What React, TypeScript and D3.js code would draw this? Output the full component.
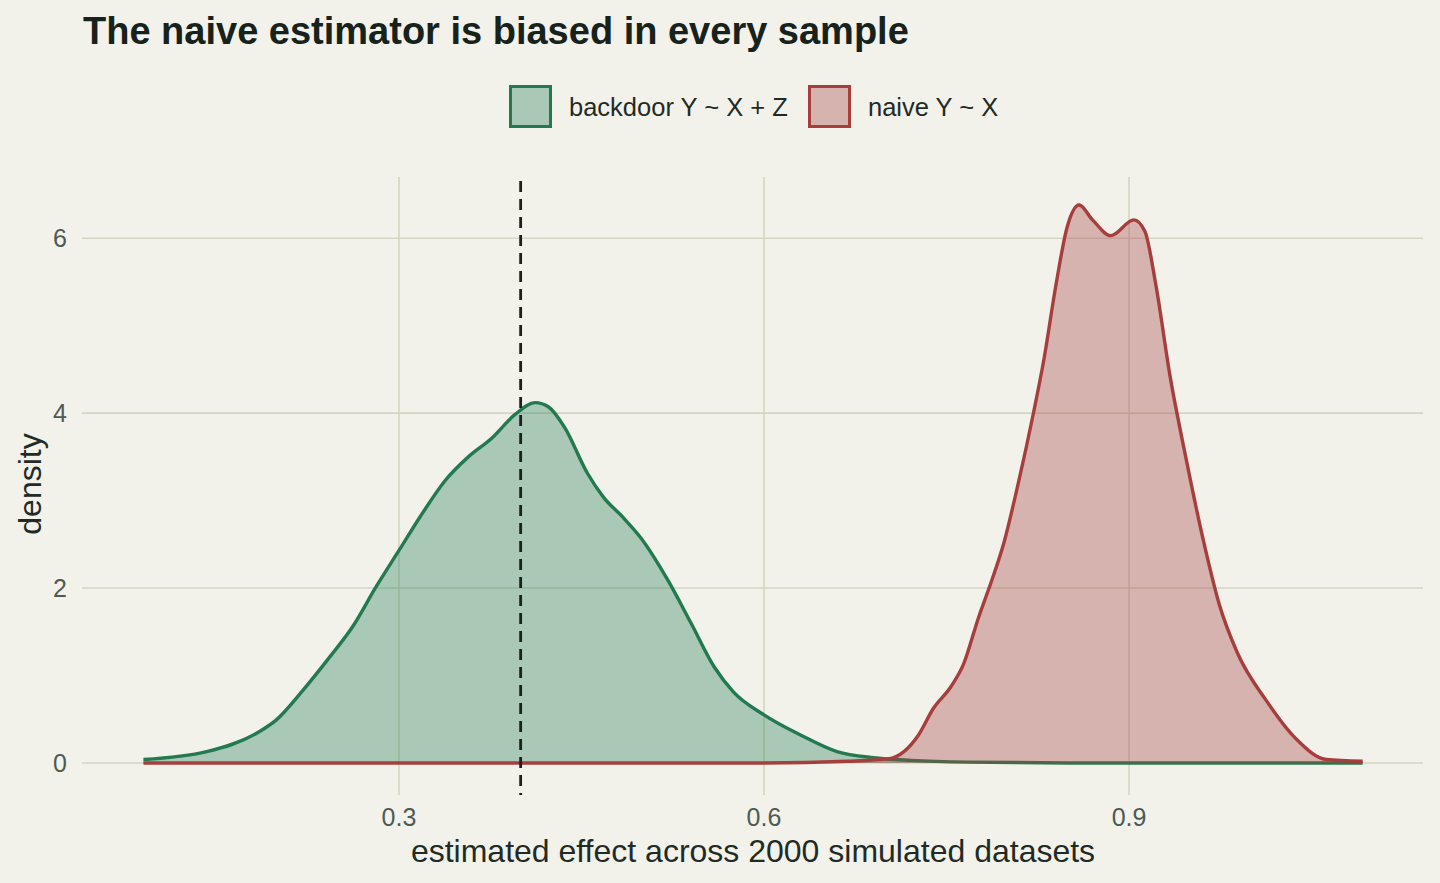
import React from "react";
import * as d3 from "d3";

// density estimates (x = estimated effect, y = density)
const backdoorX = [0.09, 0.142, 0.183, 0.199, 0.221, 0.243, 0.262, 0.281, 0.3, 0.319, 0.338, 0.357, 0.376, 0.395, 0.412, 0.423, 0.436, 0.455, 0.468, 0.484, 0.499, 0.521, 0.54, 0.559, 0.575, 0.6, 0.63, 0.66, 0.69, 0.721, 0.767, 0.85, 0.95, 1.092];
const backdoorY = [0.04, 0.13, 0.34, 0.49, 0.83, 1.21, 1.56, 2.01, 2.43, 2.85, 3.23, 3.5, 3.71, 3.98, 4.12, 4.07, 3.84, 3.31, 3.04, 2.81, 2.57, 2.09, 1.6, 1.1, 0.81, 0.55, 0.32, 0.13, 0.06, 0.03, 0.01, 0, 0, 0];

const naiveX = [0.09, 0.3, 0.5, 0.6, 0.669, 0.703, 0.715, 0.727, 0.739, 0.754, 0.764, 0.776, 0.788, 0.797, 0.809, 0.821, 0.83, 0.84, 0.849, 0.859, 0.87, 0.885, 0.904, 0.913, 0.922, 0.934, 0.946, 0.961, 0.974, 0.989, 1.013, 1.037, 1.062, 1.092];
const naiveY = [0, 0, 0, 0, 0.02, 0.05, 0.13, 0.32, 0.62, 0.88, 1.13, 1.65, 2.12, 2.51, 3.2, 3.97, 4.61, 5.47, 6.12, 6.38, 6.21, 6.03, 6.21, 6.08, 5.47, 4.4, 3.54, 2.55, 1.82, 1.26, 0.71, 0.28, 0.04, 0.02];

const xTicks = [0.3, 0.6, 0.9];
const yTicks = [0, 2, 4, 6];
const trueEffect = 0.4;

const seriesNames = ["backdoor Y ~ X + Z", "naive Y ~ X"];
const seriesColors = ["#237a4f", "#a63e3e"];

const W = 1440;
const H = 883;
const bg = "#f2f2eb";
const gridColor = "#d5d5c5";
const font = "'Liberation Sans', Arial, Helvetica, sans-serif";

const App = () => {
  const x = d3.scaleLinear().domain([0.0395, 1.1416]).range([82, 1423]);
  const y = d3.scaleLinear().domain([-0.366, 6.7]).range([795, 177]);

  const series = [
    backdoorX.map((v, i) => [v, backdoorY[i]]),
    naiveX.map((v, i) => [v, naiveY[i]]),
  ];

  const area = d3
    .area<number[]>()
    .x((d) => x(d[0]))
    .y0(y(0))
    .y1((d) => y(d[1]))
    .curve(d3.curveMonotoneX);
  const line = d3
    .line<number[]>()
    .x((d) => x(d[0]))
    .y((d) => y(d[1]))
    .curve(d3.curveMonotoneX);

  const [x0, x1] = x.range();
  const [yb, yt] = y.range();

  return (
    <svg width={W} height={H} style={{ position: "absolute", left: 0, top: 0, display: "block" }}>
      <rect width={W} height={H} fill={bg} />

      {/* grid */}
      {yTicks.map((t) => (
        <line key={"gy" + t} x1={x0} x2={x1} y1={y(t)} y2={y(t)} stroke={gridColor} strokeWidth={1.6} />
      ))}
      {xTicks.map((t) => (
        <line key={"gx" + t} x1={x(t)} x2={x(t)} y1={yt} y2={yb} stroke={gridColor} strokeWidth={1.6} />
      ))}

      {/* densities */}
      {series.map((s, i) => (
        <g key={i}>
          <path d={area(s) || ""} fill={seriesColors[i]} fillOpacity={0.35} />
          <path d={line(s) || ""} fill="none" stroke={seriesColors[i]} strokeWidth={3.4} strokeLinejoin="round" />
        </g>
      ))}

      <line
        x1={x(trueEffect)}
        x2={x(trueEffect)}
        y1={yt + 4}
        y2={yb}
        stroke="#1e1e1e"
        strokeWidth={2.8}
        strokeDasharray="11 7"
      />

      {/* axes labels */}
      {yTicks.map((t) => (
        <text key={"ty" + t} x={67} y={y(t)} dy="0.36em" textAnchor="end" fontSize={25} fill="#4d5a52" fontFamily={font}>
          {t}
        </text>
      ))}
      {xTicks.map((t) => (
        <text key={"tx" + t} x={x(t)} y={826} textAnchor="middle" fontSize={25} fill="#4d5a52" fontFamily={font}>
          {t}
        </text>
      ))}
      <text x={753} y={862} textAnchor="middle" fontSize={32} fill="#1f2b24" fontFamily={font}>
        estimated effect across 2000 simulated datasets
      </text>
      <text transform="translate(41,484) rotate(-90)" textAnchor="middle" fontSize={32} fill="#1f2b24" fontFamily={font}>
        density
      </text>

      {/* title */}
      <text x={83} y={44} fontSize={38} fontWeight="bold" fill="#16221b" fontFamily={font}>
        The naive estimator is biased in every sample
      </text>

      {/* legend */}
      {seriesNames.map((n, i) => {
        const bx = i === 0 ? 509 : 808;
        return (
          <g key={n}>
            <rect x={bx + 1.5} y={86.5} width={40} height={40} fill={bg} />
            <rect x={bx + 1.5} y={86.5} width={40} height={40} fill={seriesColors[i]} fillOpacity={0.35} stroke={seriesColors[i]} strokeWidth={3} />
            <text x={bx + 60} y={116} fontSize={25.5} fill="#1f2b24" fontFamily={font}>
              {n}
            </text>
          </g>
        );
      })}
    </svg>
  );
};

export default App;
